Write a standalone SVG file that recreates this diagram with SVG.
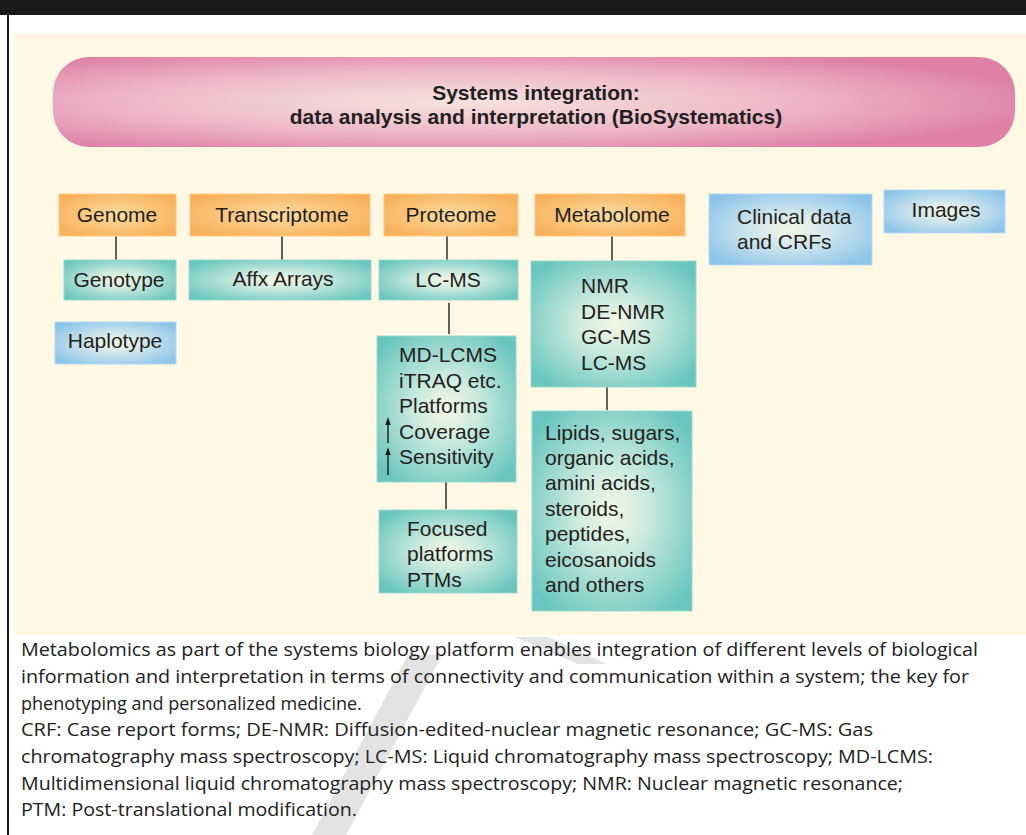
<svg xmlns="http://www.w3.org/2000/svg" width="1026" height="835" viewBox="0 0 1026 835">
<defs>
<radialGradient id="gPink" cx="0.42" cy="0.5" r="0.62">
<stop offset="0" stop-color="#F6E3DF"/>
<stop offset="0.55" stop-color="#EEB8C8"/>
<stop offset="1" stop-color="#DF80A6"/>
</radialGradient>
<radialGradient id="gOrange" cx="0.5" cy="0.5" r="0.6">
<stop offset="0" stop-color="#FDDCA0"/>
<stop offset="1" stop-color="#F8B05B"/>
</radialGradient>
<radialGradient id="gTeal" cx="0.5" cy="0.5" r="0.62">
<stop offset="0" stop-color="#F4F7E4"/>
<stop offset="0.35" stop-color="#CDEBDF"/>
<stop offset="1" stop-color="#69C6BF"/>
</radialGradient>
<radialGradient id="gBlue" cx="0.5" cy="0.5" r="0.62">
<stop offset="0" stop-color="#F5F6E6"/>
<stop offset="0.35" stop-color="#D4E8EC"/>
<stop offset="1" stop-color="#8CC4EA"/>
</radialGradient>
</defs>
<style>
.box-o{fill:url(#gOrange);stroke:#FBCB86;stroke-width:1}
.box-t{fill:url(#gTeal);stroke:#9AD9D2;stroke-width:1}
.box-b{fill:url(#gBlue);stroke:#B6DAF2;stroke-width:1}
.t{font-family:"Liberation Sans",Arial,Helvetica,sans-serif;font-size:21px;fill:#231F20}
.tc{text-anchor:middle}
.title{font-family:"Liberation Sans",Arial,Helvetica,sans-serif;font-size:21px;font-weight:bold;fill:#231F20;text-anchor:middle}
.cap{font-family:"Open Sans","Noto Sans",sans-serif;font-size:18px;fill:#222}
.conn line{stroke:#3a3a3a;stroke-width:1.6}
.up line{stroke:#1a1a1a;stroke-width:1.4}
.up polygon{fill:#1a1a1a}
</style>
<rect x="0" y="0" width="1026" height="835" fill="#FFFFFF"/>
<rect x="0" y="0" width="1026" height="15" fill="#1A1A1A"/>
<rect x="7" y="15" width="2" height="820" fill="#1A1A1A"/>
<g id="watermark" fill="#E3E3E3">
<polygon points="312,835 346,835 442,655 408,655"/>
<polygon points="515,637 548,637 606,664 578,664"/>
</g>
<rect x="14" y="33" width="1012" height="602" fill="#FEF8E5"/>

<g id="banner">
<rect x="53" y="57" width="962" height="90" rx="36" ry="36" fill="url(#gPink)"/>
<text class="title" x="536" y="100">Systems integration:</text>
<text class="title" x="536" y="124">data analysis and interpretation (BioSystematics)</text>
</g>

<g class="conn" id="connectors">
<line x1="116" y1="236" x2="116" y2="260"/>
<line x1="282" y1="236" x2="282" y2="260"/>
<line x1="447" y1="236" x2="447" y2="260"/>
<line x1="449" y1="303" x2="449" y2="334"/>
<line x1="446" y1="482" x2="446" y2="509"/>
<line x1="612" y1="236" x2="612" y2="261"/>
<line x1="607" y1="387" x2="607" y2="410"/>
</g>

<g id="genome"><rect class="box-o" x="59" y="194" width="117" height="42"/><text class="t tc" x="117" y="222">Genome</text></g>
<g id="transcriptome"><rect class="box-o" x="190" y="194" width="180" height="42"/><text class="t tc" x="282" y="222">Transcriptome</text></g>
<g id="proteome"><rect class="box-o" x="384" y="194" width="134" height="42"/><text class="t tc" x="451" y="222">Proteome</text></g>
<g id="metabolome"><rect class="box-o" x="535" y="194" width="150" height="42"/><text class="t tc" x="612" y="222">Metabolome</text></g>
<g id="clinical"><rect class="box-b" x="709" y="194" width="163" height="71"/><text class="t" x="737" y="224">Clinical data</text><text class="t" x="737" y="249">and CRFs</text></g>
<g id="images"><rect class="box-b" x="884" y="190" width="121" height="43"/><text class="t tc" x="946" y="217">Images</text></g>

<g id="genotype"><rect class="box-t" x="64" y="260" width="112" height="40"/><text class="t tc" x="119" y="287">Genotype</text></g>
<g id="affx"><rect class="box-t" x="189" y="260" width="182" height="40"/><text class="t tc" x="283" y="286">Affx Arrays</text></g>
<g id="haplotype"><rect class="box-b" x="55" y="322" width="121" height="42"/><text class="t tc" x="115" y="348">Haplotype</text></g>
<g id="lcms-p"><rect class="box-t" x="379" y="260" width="139" height="40"/><text class="t tc" x="448" y="287">LC-MS</text></g>

<g id="metab-tech"><rect class="box-t" x="531" y="261" width="165" height="126"/>
<text class="t" x="581" y="293">NMR</text>
<text class="t" x="581" y="319">DE-NMR</text>
<text class="t" x="581" y="344">GC-MS</text>
<text class="t" x="581" y="370">LC-MS</text>
</g>

<g id="prot-platforms"><rect class="box-t" x="377" y="336" width="139" height="146"/>
<text class="t" x="399" y="362">MD-LCMS</text>
<text class="t" x="399" y="388">iTRAQ etc.</text>
<text class="t" x="399" y="413">Platforms</text>
<text class="t" x="399" y="439">Coverage</text>
<text class="t" x="399" y="464">Sensitivity</text>
<g class="up">
<line x1="388" y1="443" x2="388" y2="423"/>
<polygon points="388,417 385.3,425 390.7,425"/>
<line x1="388" y1="475" x2="388" y2="453"/>
<polygon points="388,447 385.3,455 390.7,455"/>
</g>
</g>

<g id="focused"><rect class="box-t" x="379" y="510" width="138" height="83"/>
<text class="t" x="407" y="536">Focused</text>
<text class="t" x="407" y="561">platforms</text>
<text class="t" x="407" y="587">PTMs</text>
</g>

<g id="metabolites"><rect class="box-t" x="532" y="411" width="160" height="200"/>
<text class="t" x="545" y="440">Lipids, sugars,</text>
<text class="t" x="545" y="465">organic acids,</text>
<text class="t" x="545" y="490">amini acids,</text>
<text class="t" x="545" y="516">steroids,</text>
<text class="t" x="545" y="541">peptides,</text>
<text class="t" x="545" y="567">eicosanoids</text>
<text class="t" x="545" y="592">and others</text>
</g>

<g id="caption">
<text class="cap" x="21" y="656" textLength="957" lengthAdjust="spacingAndGlyphs">Metabolomics as part of the systems biology platform enables integration of different levels of biological</text>
<text class="cap" x="21" y="683" textLength="948" lengthAdjust="spacingAndGlyphs">information and interpretation in terms of connectivity and communication within a system; the key for</text>
<text class="cap" x="21" y="710">phenotyping and personalized medicine.</text>
<text class="cap" x="21" y="736" textLength="852" lengthAdjust="spacingAndGlyphs">CRF: Case report forms; DE-NMR: Diffusion-edited-nuclear magnetic resonance; GC-MS: Gas</text>
<text class="cap" x="21" y="763" textLength="912" lengthAdjust="spacingAndGlyphs">chromatography mass spectroscopy; LC-MS: Liquid chromatography mass spectroscopy; MD-LCMS:</text>
<text class="cap" x="21" y="790" textLength="882" lengthAdjust="spacingAndGlyphs">Multidimensional liquid chromatography mass spectroscopy; NMR: Nuclear magnetic resonance;</text>
<text class="cap" x="21" y="816" textLength="336" lengthAdjust="spacingAndGlyphs">PTM: Post-translational modification.</text>
</g>
</svg>
